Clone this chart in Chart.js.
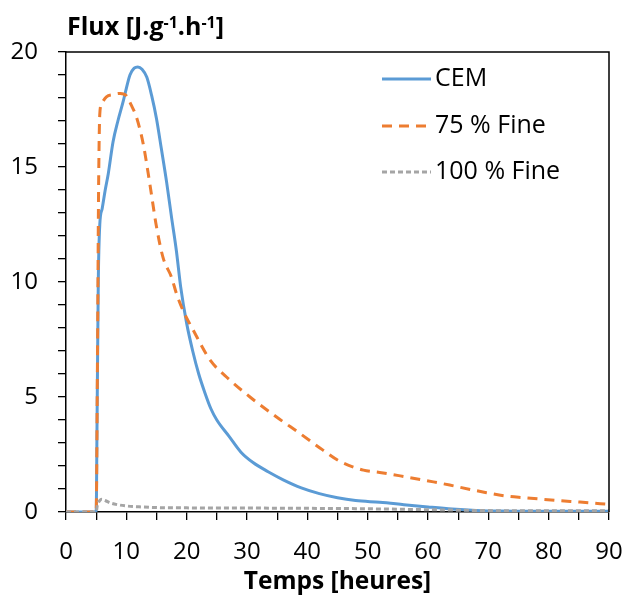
<!DOCTYPE html>
<html><head><meta charset="utf-8">
<script src="https://cdn.jsdelivr.net/npm/chart.js@4.4.1/dist/chart.umd.min.js"></script>
<style>html,body{margin:0;padding:0;background:#fff;}#wrap{width:627px;height:597px;}</style>
</head><body><div id="wrap"><canvas id="c" width="627" height="597"></canvas></div>
<script>
// ---- data ----
const seriesLabels = ['CEM', '75 % Fine', '100 % Fine'];
const cemX = [0, 5.0, 5.15, 5.35, 5.6, 6.0, 6.5, 7.0, 7.8, 8.6, 9.5, 9.8, 10.6, 11.3, 11.9, 12.6, 13.4, 14.2, 15.0, 15.8, 16.7, 17.5, 18.3, 19.0, 20.0, 21.0, 22.0, 23.0, 24.0, 25.0, 27.0, 29.0, 31.0, 33.5, 36.0, 39.0, 42.0, 45.0, 48.0, 52.0, 56.0, 60.0, 64.0, 68.0, 72.0, 80.0, 90.0];
const cemY = [0, 0, 4, 10, 12.5, 13.2, 14.0, 14.7, 16.1, 17.0, 17.87, 18.2, 19.0, 19.3, 19.35, 19.25, 18.9, 18.1, 17.1, 15.8, 14.3, 12.8, 11.35, 9.8, 8.2, 7.0, 6.0, 5.2, 4.5, 4.0, 3.3, 2.6, 2.15, 1.75, 1.4, 1.05, 0.8, 0.62, 0.5, 0.42, 0.32, 0.22, 0.13, 0.07, 0.04, 0.03, 0.03];
const fine75X = [0, 5.0, 5.2, 5.4, 5.6, 5.9, 6.7, 7.8, 9.0, 10.0, 10.8, 11.7, 12.8, 13.9, 15.0, 16.1, 17.5, 18.3, 19.4, 21.1, 23.9, 26.6, 30.5, 34.9, 38.8, 42.6, 45.4, 49.3, 52.0, 55.4, 60.9, 63.6, 67.0, 69.7, 73.0, 76.0, 79.1, 82.0, 85.2, 90.0];
const fine75Y = [0, 0, 6, 14, 17.3, 17.75, 18.05, 18.15, 18.2, 18.1, 17.7, 17.15, 16.0, 14.26, 12.4, 11.05, 10.2, 9.5, 8.76, 7.9, 6.6, 5.87, 5.0, 4.13, 3.41, 2.69, 2.2, 1.82, 1.72, 1.57, 1.31, 1.17, 0.98, 0.84, 0.69, 0.62, 0.55, 0.49, 0.43, 0.33];
const fine100X = [0, 5.0, 5.2, 5.6, 5.9, 6.5, 7.3, 8.5, 10.1, 12.5, 15.6, 20, 25, 30, 40, 50, 60, 70, 80, 90];
const fine100Y = [0, 0, 0.3, 0.5, 0.55, 0.5, 0.4, 0.32, 0.26, 0.22, 0.19, 0.18, 0.17, 0.17, 0.16, 0.14, 0.1, 0.06, 0.05, 0.05];
const yAxisTitleParts = [['Flux [J.g', false], ['-1', true], ['.h', false], ['-1', true], [']', false]];
const xAxisTitle = 'Temps [heures]';

function pts(xs, ys) { return xs.map((x, i) => ({ x: x, y: ys[i] })); }

const FONT = '"Open Sans", Lato, sans-serif';

const frameAndLegend = {
  id: 'frameAndLegend',
  afterDatasetsDraw(chart) {
    const ctx = chart.ctx, a = chart.chartArea;
    ctx.save();
    ctx.strokeStyle = '#000';
    ctx.lineWidth = 1.5;
    ctx.beginPath();
    ctx.moveTo(a.left, a.top); ctx.lineTo(a.right, a.top); ctx.lineTo(a.right, a.bottom);
    ctx.stroke();
    ctx.restore();
  },
  afterDraw(chart) {
    const ctx = chart.ctx;
    ctx.save();
    const rows = [79, 126, 172];
    chart.data.datasets.forEach((ds, i) => {
      const y = rows[i];
      ctx.strokeStyle = ds.borderColor;
      ctx.lineWidth = ds.borderWidth;
      ctx.setLineDash(ds.borderDash || []);
      ctx.beginPath(); ctx.moveTo(382, y); ctx.lineTo(431, y); ctx.stroke();
      ctx.setLineDash([]);
      ctx.fillStyle = '#000';
      ctx.font = '25px ' + FONT;
      ctx.textBaseline = 'middle';
      ctx.textAlign = 'left';
      ctx.fillText(ds.label, 435, y);
    });
    let x = 67;
    const base = 35;
    ctx.textBaseline = 'alphabetic';
    yAxisTitleParts.forEach(([t, sup]) => {
      ctx.font = sup ? 'bold 16px ' + FONT : 'bold 25px ' + FONT;
      ctx.fillText(t, x, sup ? base - 7 : base);
      x += ctx.measureText(t).width;
    });
    ctx.restore();
  }
};

new Chart(document.getElementById('c'), {
  type: 'line',
  data: {
    datasets: [
      { label: seriesLabels[0], data: pts(cemX, cemY), borderColor: '#5B9BD5', borderWidth: 3, borderDash: [], pointRadius: 0, cubicInterpolationMode: 'monotone', order: 3 },
      { label: seriesLabels[1], data: pts(fine75X, fine75Y), borderColor: '#ED7D31', borderWidth: 3, borderDash: [10, 7], pointRadius: 0, cubicInterpolationMode: 'monotone', order: 2 },
      { label: seriesLabels[2], data: pts(fine100X, fine100Y), borderColor: '#A5A5A5', borderWidth: 3, borderDash: [5, 3], pointRadius: 0, cubicInterpolationMode: 'monotone', order: 1 }
    ]
  },
  options: {
    responsive: false,
    animation: false,
    devicePixelRatio: 1,
    layout: { padding: { top: 52, right: 18, left: 0, bottom: 0 } },
    plugins: { legend: { display: false }, tooltip: { enabled: false } },
    scales: {
      x: {
        type: 'linear', min: 0, max: 90,
        afterFit: s => { s.height = 85; s.paddingLeft = 0; s.paddingRight = 0; },
        ticks: { stepSize: 5, autoSkip: false, maxRotation: 0, padding: 18, color: '#000', font: { family: FONT, size: 24 },
          callback: v => (v % 10 === 0 ? String(v) : '') },
        grid: { drawOnChartArea: false, drawTicks: true, tickLength: 8, color: '#000', lineWidth: 1.3 },
        border: { color: '#000', width: 1.5 },
        title: { display: true, text: xAxisTitle, color: '#000', font: { family: FONT, size: 24.5, weight: 'bold' }, padding: { top: 0, bottom: 0 } }
      },
      y: {
        type: 'linear', min: 0, max: 20,
        afterFit: s => { s.width = 66; s.paddingTop = 0; s.paddingBottom = 0; },
        ticks: { stepSize: 1, autoSkip: false, padding: 20, color: '#000', font: { family: FONT, size: 24 },
          callback: v => (v % 5 === 0 ? String(v) : '') },
        grid: { drawOnChartArea: false, drawTicks: true, tickLength: 8, color: '#000', lineWidth: 1.3 },
        border: { color: '#000', width: 1.5 }
      }
    }
  },
  plugins: [frameAndLegend]
});
</script></body></html>
